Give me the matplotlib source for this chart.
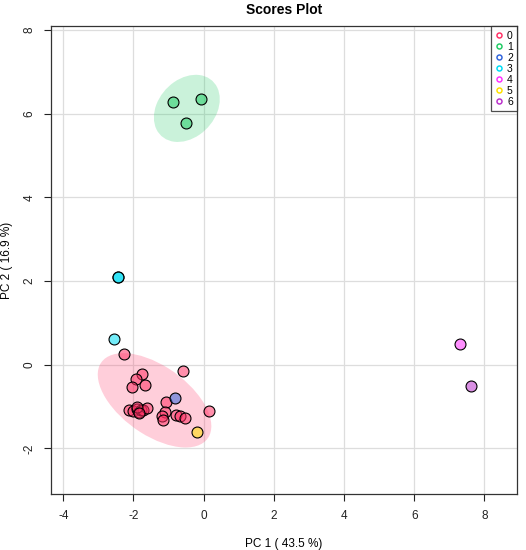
import matplotlib
matplotlib.use('Agg')
import matplotlib.pyplot as plt
from matplotlib.colors import to_rgba
from matplotlib.patches import Ellipse
from matplotlib.lines import Line2D

plt.rcParams['font.family'] = ['Liberation Sans', 'DejaVu Sans']
plt.rcParams['axes.unicode_minus'] = False

# scores per group
pc1_g0 = [-2.27, -0.60, -1.75, -1.93, -2.03, -1.68, -1.08, 0.15, -2.13, -2.02,
          -1.90, -1.84, -1.79, -1.72, -1.61, -1.10, -1.20, -1.15, -0.79, -0.68,
          -0.53, -1.90, -1.85]
pc2_g0 = [0.26, -0.14, -0.21, -0.35, -0.53, -0.49, -0.88, -1.11, -1.08, -1.10,
          -1.05, -1.12, -1.08, -1.07, -1.04, -1.12, -1.23, -1.32, -1.20, -1.23,
          -1.28, -1.00, -1.15]
pc1_g1 = [-0.86, -0.07, -0.50]
pc2_g1 = [6.29, 6.36, 5.78]
pc1_g2 = [-0.83]
pc2_g2 = [-0.80]
pc1_g3 = [-2.44, -2.44, -2.56]
pc2_g3 = [2.09, 2.09, 0.61]
pc1_g4 = [7.30]
pc2_g4 = [0.50]
pc1_g5 = [-0.20]
pc2_g5 = [-1.60]
pc1_g6 = [7.62]
pc2_g6 = [-0.50]

groups = ['0', '1', '2', '3', '4', '5', '6']
group_colors = ['#FF3366', '#22CC66', '#3366DD', '#00DDF5', '#FF33FF', '#FFE000', '#BB33CC']

# confidence ellipses: centre, width, height, angle
ell_centres = [(-1.40, -0.85), (-0.48, 6.13)]
ell_widths = [3.55, 2.0]
ell_heights = [1.72, 1.45]
ell_angles = [-28, 30]
ell_colors = ['#FF3366', '#22CC66']

xs = [pc1_g0, pc1_g1, pc1_g2, pc1_g3, pc1_g4, pc1_g5, pc1_g6]
ys = [pc2_g0, pc2_g1, pc2_g2, pc2_g3, pc2_g4, pc2_g5, pc2_g6]

fig = plt.figure(figsize=(5.26, 5.5), dpi=100)
ax = fig.add_axes([0.097, 0.101, 0.886, 0.851])

for c, w, h, a, col in zip(ell_centres, ell_widths, ell_heights, ell_angles, ell_colors):
    ax.add_patch(Ellipse(c, w, h, angle=a, facecolor=col, alpha=0.24,
                         edgecolor='none', zorder=1))

# fill is translucent, outline opaque, drawn point by point like R's pch=21
for x, y, col in zip(xs, ys, group_colors):
    ax.scatter(x, y, s=62, facecolor=to_rgba(col, 0.55), edgecolor='black',
               linewidth=0.8, zorder=2)

ax.set_xlim(-4.35, 8.93)
ax.set_ylim(-3.1, 8.09)
ax.set_xticks([-4, -2, 0, 2, 4, 6, 8])
ax.set_yticks([-2, 0, 2, 4, 6, 8])
ax.grid(True, color='#DDDDDD', linewidth=0.9)
ax.set_axisbelow(True)
for s in ax.spines.values():
    s.set_color('#333333')
    s.set_linewidth(0.9)
ax.tick_params(direction='out', length=5, width=0.8, labelsize=8.5, colors='#222222', pad=6)
for lab in ax.get_yticklabels():
    lab.set_rotation(90)
    lab.set_va('center')

ax.set_title('Scores Plot', fontsize=10, fontweight='bold', pad=9)
ax.set_xlabel('PC 1 ( 43.5 %)', fontsize=8.5, labelpad=12)
ax.set_ylabel('PC 2 ( 16.9 %)', fontsize=8.5, labelpad=8)

handles = [Line2D([], [], linestyle='none', marker='o', markersize=3.6,
                  markerfacecolor='none', markeredgecolor=c, markeredgewidth=1.1)
           for c in group_colors]
leg = ax.legend(handles, groups, loc='upper right', fontsize=7.5, frameon=True,
                fancybox=False, borderaxespad=0, handlelength=0.6, handletextpad=0.5,
                borderpad=0.4, labelspacing=0.1)
leg.get_frame().set_edgecolor('#222222')
leg.get_frame().set_linewidth(0.9)

fig.savefig('out.png', dpi=100)
